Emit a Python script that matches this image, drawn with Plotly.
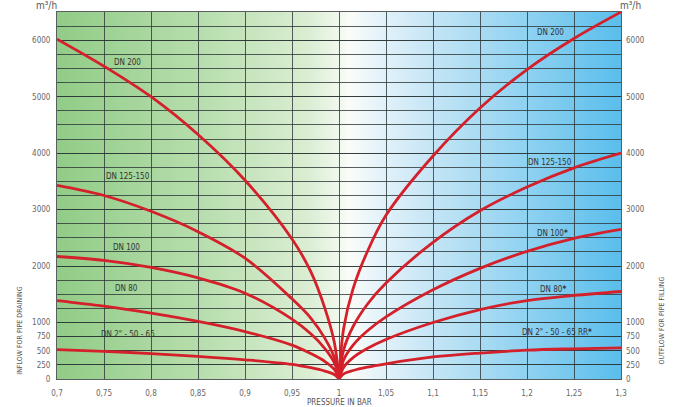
import plotly.graph_objects as go

# ---------------- data ----------------
x_left = [0.7, 0.75, 0.8, 0.85, 0.9, 0.95, 0.97, 0.985, 0.995, 1.0]
x_right = [1.0, 1.005, 1.015, 1.03, 1.05, 1.1, 1.15, 1.2, 1.25, 1.3]

dn200_left = [6020, 5540, 5000, 4330, 3520, 2480, 1900, 1250, 650, 0]
dn125_left = [3430, 3250, 2970, 2610, 2140, 1420, 1080, 720, 380, 0]
dn100_left = [2170, 2100, 1975, 1790, 1520, 1060, 800, 540, 290, 0]
dn80_left = [1390, 1290, 1165, 1020, 840, 600, 450, 310, 170, 0]
dn2_left = [520, 490, 450, 400, 340, 260, 200, 140, 80, 0]

dn200_right = [0, 900, 1600, 2250, 2900, 3950, 4800, 5480, 6030, 6500]
dn125_right = [0, 520, 930, 1320, 1700, 2420, 2980, 3400, 3740, 4000]
dn100_right = [0, 340, 600, 850, 1100, 1580, 1960, 2260, 2490, 2650]
dn80_right = [0, 210, 380, 540, 700, 1000, 1230, 1390, 1480, 1550]
dn2_right = [0, 90, 150, 210, 270, 390, 460, 510, 535, 552]

x_tickvals = [0.7, 0.75, 0.8, 0.85, 0.9, 0.95, 1.0, 1.05, 1.1, 1.15, 1.2, 1.25, 1.3]
x_ticktext = ["0,7", "0,75", "0,8", "0,85", "0,9", "0,95", "1", "1,05", "1,1", "1,15", "1,2", "1,25", "1,3"]
y_tickvals = [0, 250, 500, 750, 1000, 2000, 3000, 4000, 5000, 6000]
y_ticktext = ["0", "250", "500", "750", "1000", "2000", "3000", "4000", "5000", "6000"]

left_labels = ["DN 200", "DN 125-150", "DN 100", "DN 80", "DN 2\" - 50 - 65"]
left_label_x = [0.775, 0.775, 0.774, 0.774, 0.7755]
left_label_y = [5600, 3590, 2330, 1600, 785]
right_labels = ["DN 200", "DN 125-150", "DN 100<b>*</b>", "DN 80<b>*</b>", "DN 2\" - 50 - 65 RR<b>*</b>"]
right_label_x = [1.2245, 1.2245, 1.2266, 1.2277, 1.232]
right_label_y = [6140, 3830, 2580, 1585, 820]

# ---------------- styling ----------------
RED = "rgb(212,32,42)"
GRID = "rgba(45,55,55,0.8)"
FONT = "Liberation Sans Narrow, DejaVu Sans Condensed, Arial Narrow, sans-serif"

fig = go.Figure()

left_series = [dn200_left, dn125_left, dn100_left, dn80_left, dn2_left]
right_series = [dn200_right, dn125_right, dn100_right, dn80_right, dn2_right]
for ys in left_series:
    fig.add_trace(go.Scatter(x=x_left, y=ys, mode="lines",
                             line=dict(color=RED, width=2.8, shape="spline", smoothing=1.0),
                             showlegend=False, hoverinfo="skip"))
for ys in right_series:
    fig.add_trace(go.Scatter(x=x_right, y=ys, mode="lines",
                             line=dict(color=RED, width=2.8, shape="spline", smoothing=1.0),
                             showlegend=False, hoverinfo="skip"))
# invisible trace for right axis
fig.add_trace(go.Scatter(x=[0.7, 1.3], y=[0, 0], yaxis="y2", mode="lines", line=dict(width=0),
                         showlegend=False, hoverinfo="skip"))

# background gradient strips (green -> white -> sky blue)
stops = [(0.0, (145, 204, 135)), (0.25, (182, 221, 172)), (0.45, (220, 238, 212)), (0.52, (250, 252, 248)),
         (0.56, (232, 244, 250)), (0.7, (185, 225, 244)), (1.0, (90, 190, 236))]

def col(t):
    for (t0, c0), (t1, c1) in zip(stops[:-1], stops[1:]):
        if t0 <= t <= t1:
            f = (t - t0) / (t1 - t0) if t1 > t0 else 0
            return "rgb(%d,%d,%d)" % tuple(round(a + (b - a) * f) for a, b in zip(c0, c1))
    return "rgb(%d,%d,%d)" % stops[-1][1]

N = 140
shapes = []
for i in range(N):
    t0 = i / N
    t1 = (i + 1) / N
    shapes.append(dict(type="rect", xref="x domain", yref="y domain", x0=t0, x1=min(1, t1 + 0.002), y0=0, y1=1,
                       fillcolor=col((t0 + t1) / 2), line=dict(width=0), layer="below"))

annotations = []
for t, x, y in zip(left_labels, left_label_x, left_label_y):
    annotations.append(dict(x=x, y=y, text=t, showarrow=False, font=dict(size=8, color="#333", family=FONT)))
for t, x, y in zip(right_labels, right_label_x, right_label_y):
    annotations.append(dict(x=x, y=y, text=t, showarrow=False, font=dict(size=8, color="#333", family=FONT)))

ann_common = dict(xref="paper", yref="paper", showarrow=False, xanchor="center", yanchor="middle")
annotations += [
    dict(x=-0.018, y=1.0165, text="m³/h", font=dict(size=10, color="#555", family=FONT), **ann_common),
    dict(x=1.016, y=1.0165, text="m³/h", font=dict(size=10, color="#555", family=FONT), **ann_common),
    dict(x=-0.066, y=0.131, text="INFLOW FOR PIPE DRAINING", textangle=-90,
         font=dict(size=7, color="#555", family=FONT), **ann_common),
    dict(x=1.073, y=0.16, text="OUTFLOW FOR PIPE FILLING", textangle=-90,
         font=dict(size=7, color="#555", family=FONT), **ann_common),
    dict(x=0.5, y=-0.063, text="PRESSURE IN BAR", font=dict(size=8, color="#555", family=FONT), **ann_common),
]

fig.update_layout(
    width=677, height=407,
    margin=dict(l=57, r=56, t=12, b=28, autoexpand=False),
    paper_bgcolor="white", plot_bgcolor="white",
    shapes=shapes, annotations=annotations,
    xaxis=dict(range=[0.7, 1.3], tickvals=x_tickvals, ticktext=x_ticktext, showgrid=True, gridcolor=GRID,
               gridwidth=1, zeroline=False, showline=True, linecolor=GRID, mirror=True, automargin=False,
               tickfont=dict(size=8, color="#666", family=FONT), ticks="", ticklabelstandoff=6),
    yaxis=dict(range=[0, 6500], tickvals=y_tickvals, ticktext=y_ticktext, showgrid=True, gridcolor=GRID,
               gridwidth=1, zeroline=False, showline=True, linecolor=GRID, mirror=True, automargin=False,
               minor=dict(dtick=250, tick0=0, showgrid=True, gridcolor=GRID, gridwidth=1),
               tickfont=dict(size=8, color="#666", family=FONT), ticks="", ticklabelstandoff=4),
    yaxis2=dict(range=[0, 6500], overlaying="y", side="right", tickvals=y_tickvals, ticktext=y_ticktext,
                showgrid=False, zeroline=False, automargin=False,
                tickfont=dict(size=8, color="#666", family=FONT), ticks="", ticklabelstandoff=4),
)

fig.write_html("out.html", config={"displayModeBar": False},
               post_script="document.body.style.margin='0';document.body.style.padding='0';")
